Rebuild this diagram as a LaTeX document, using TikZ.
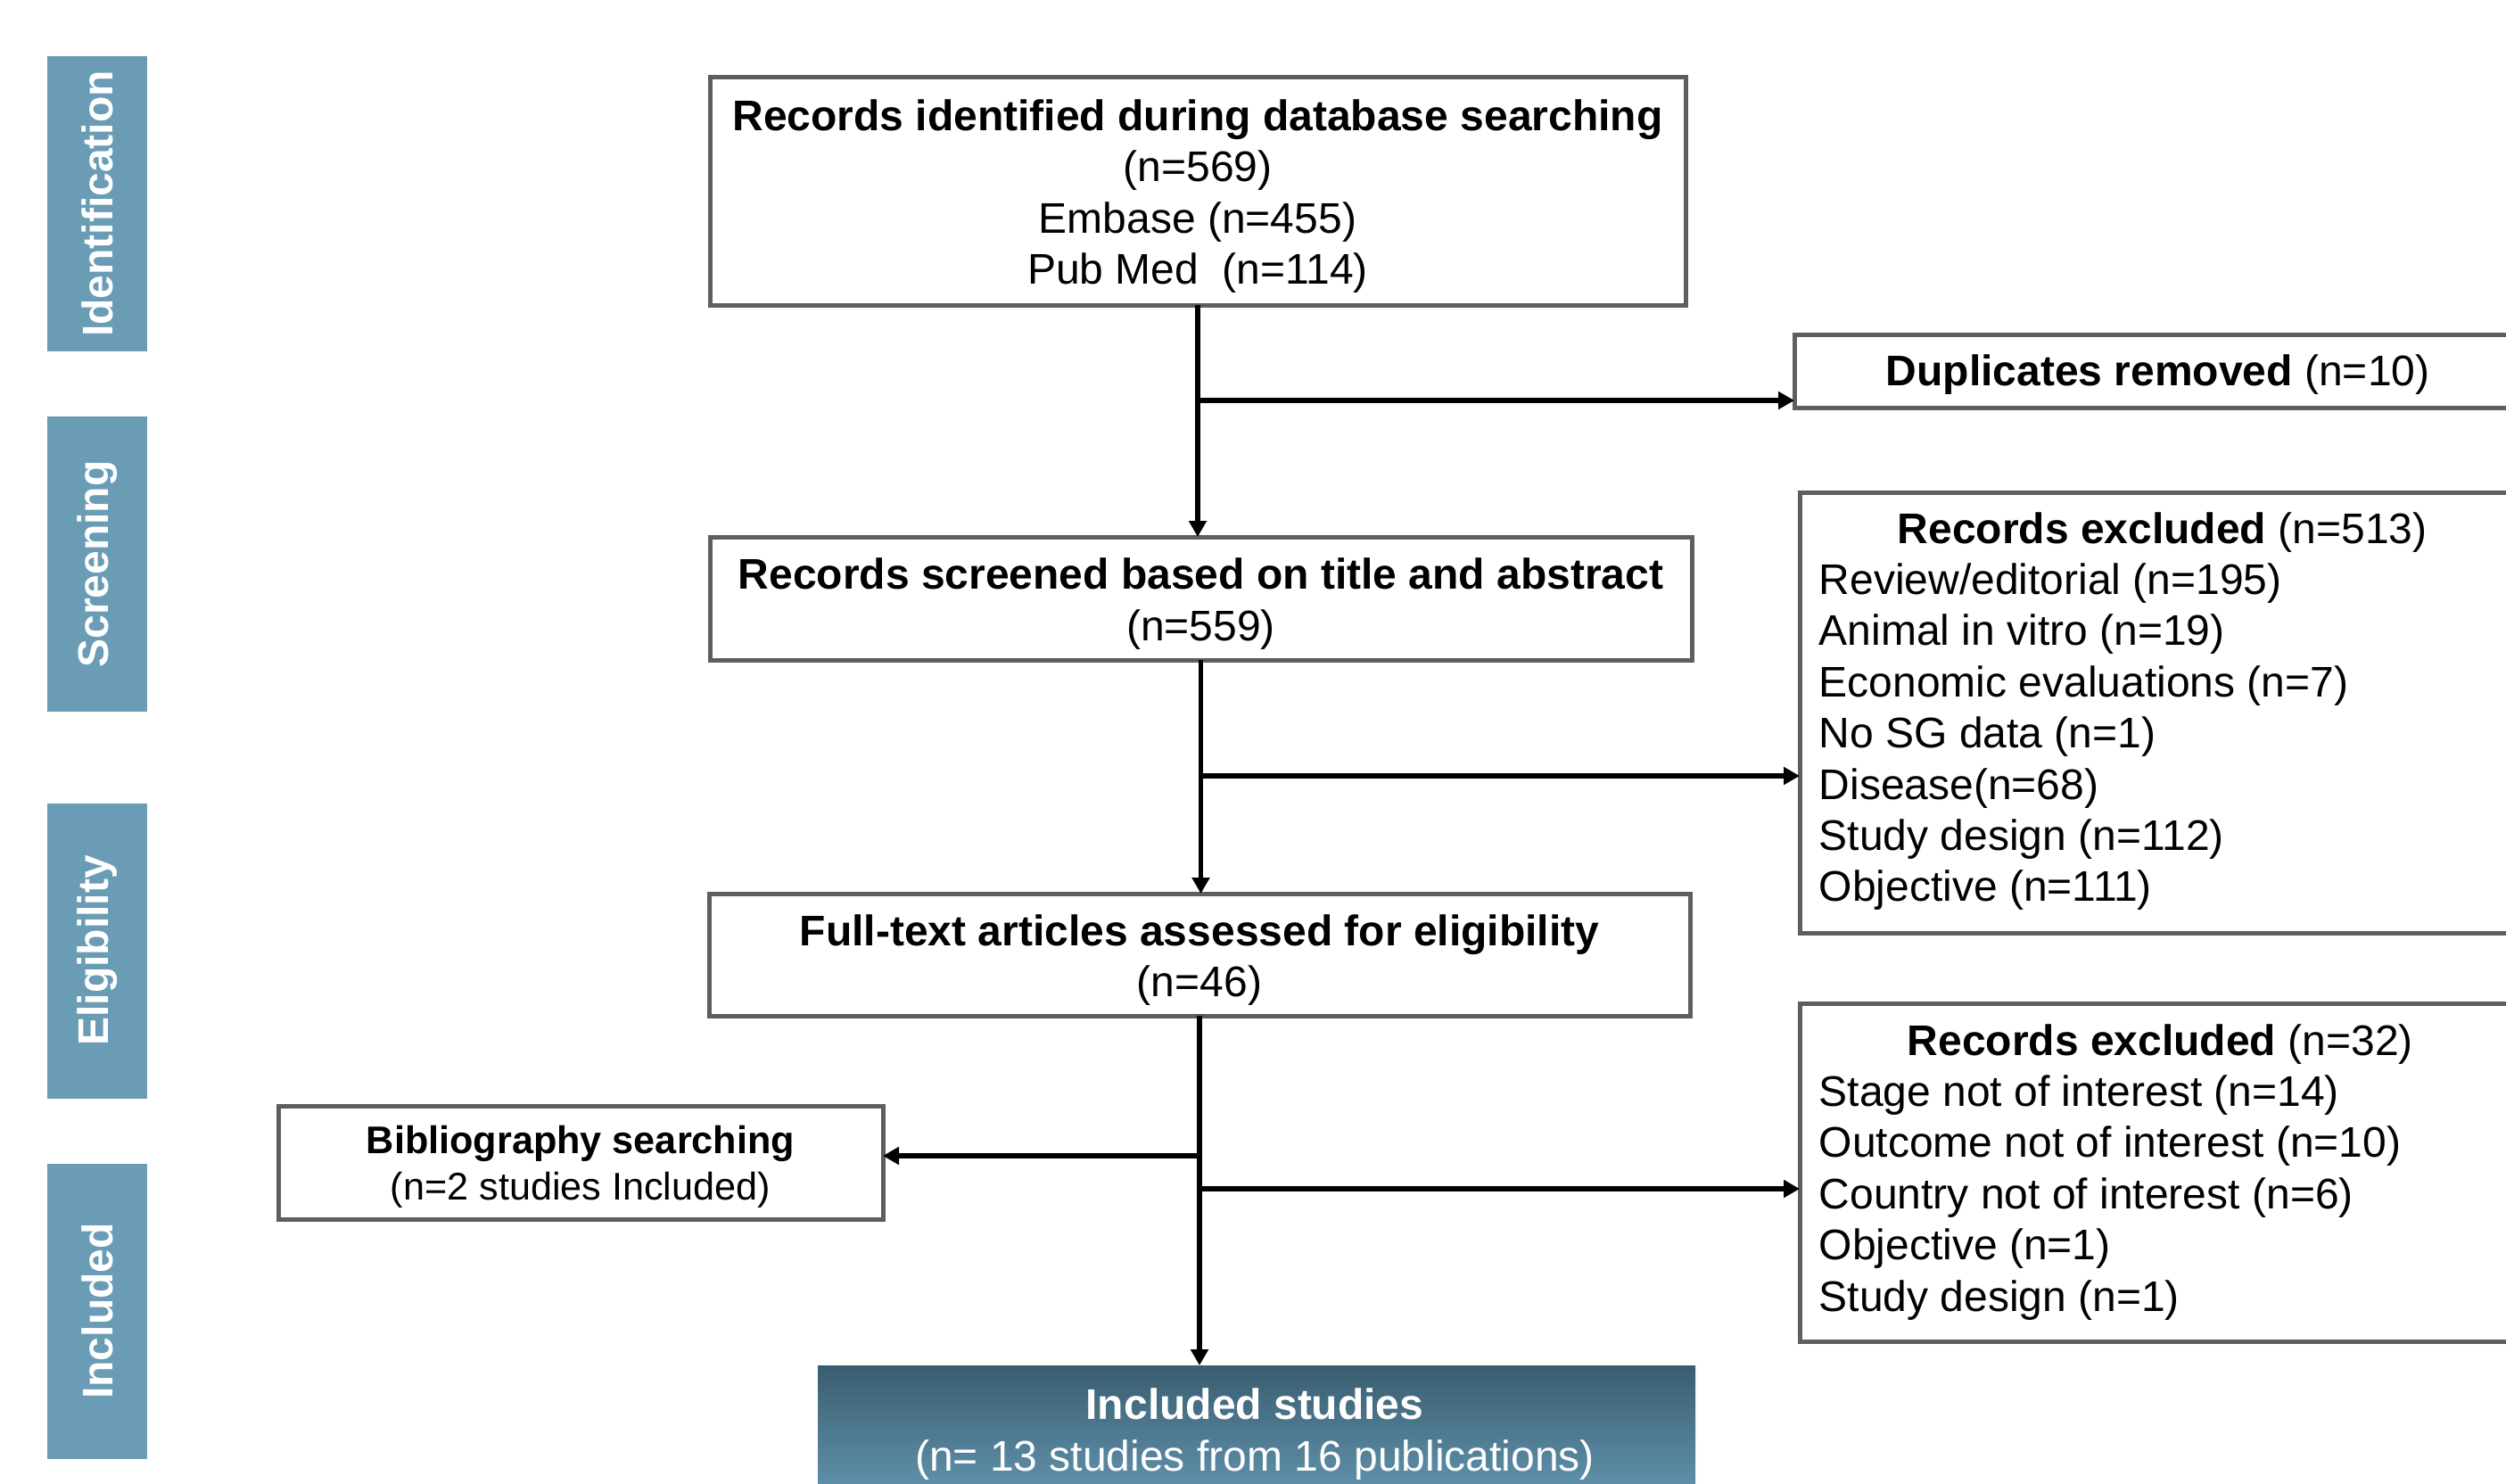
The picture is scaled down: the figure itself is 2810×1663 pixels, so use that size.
\documentclass[tikz,border=0pt]{standalone}
\usepackage{fontspec}
\setmainfont{Liberation Sans}
\usetikzlibrary{arrows.meta}
\definecolor{barblue}{HTML}{6A9DB5}
\definecolor{boxgray}{HTML}{5E5E5E}
\definecolor{inctop}{HTML}{3A5D70}
\definecolor{incbot}{HTML}{679DB8}
\begin{document}
\begin{tikzpicture}[x=0.25pt,y=-0.25pt,
  flowbox/.style={draw=boxgray, line width=1.25pt, fill=white, inner sep=0pt, outer sep=0pt},
  boxtext/.style={align=center, inner sep=0pt, font=\fontsize{12}{14.4}\selectfont},
  sidebar/.style={fill=barblue, inner sep=0pt, rotate=90, minimum width=82.75pt, minimum height=28pt, text=white, font=\fontsize{12}{14.4}\selectfont\bfseries},
  arr/.style={line width=1.3pt, -{Triangle[length=4.5pt,width=4.8pt]}},
  txt/.style={anchor=base west, inner sep=0pt, font=\fontsize{12}{14.4}\selectfont}]
\useasboundingbox (0,0) rectangle (2810,1663);
\clip (0,0) rectangle (2810,1663);

% phase bars
\node[sidebar] (sid1) at (109,228.5) {Identification};
\node[sidebar] (sid2) at (109,632.5) {Screening};
\node[sidebar] (sid3) at (109,1066) {Eligibility};
\node[sidebar] (sid4) at (109,1470) {Included};

% connector coordinates
\coordinate (j1) at (1343,449);
\coordinate (j2) at (1346.5,870);
\coordinate (j3) at (1345,1296);
\coordinate (j4) at (1345,1333);

% main boxes
\node[flowbox, minimum width=273.5pt, minimum height=64pt] (box1) at (1343,214) {};
\node[boxtext] (box1t) at ([yshift=-1.5pt]box1.center)
  {\textbf{Records identified during database searching}\\(n=569)\\Embase (n=455)\\Pub Med\ \ (n=114)};
\node[flowbox, minimum width=275.25pt, minimum height=34.5pt] (box2) at (1346.5,671) {};
\node[boxtext] (box2t) at ([yshift=-1.5pt]box2.center)
  {\textbf{Records screened based on title and abstract}\\(n=559)};
\node[flowbox, minimum width=275pt, minimum height=34.25pt] (box3) at (1345,1070.5) {};
\node[boxtext] (box3t) at ([yshift=-1.5pt]box3.center)
  {\textbf{Full-text articles assessed for eligibility}\\(n=46)};
\node[flowbox, minimum width=169.5pt, minimum height=31.75pt] (bib) at (651,1303.5) {};
\node[boxtext, font=\fontsize{10.8}{13}\selectfont] (bibt) at ([yshift=-1.3pt]bib.center)
  {\textbf{Bibliography searching}\\(n=2 studies Included)};

% side boxes (running past the right edge)
\node[flowbox, minimum width=222pt, minimum height=20.5pt] (dup) at (2456,416) {};
\node[flowbox, minimum width=220.5pt, minimum height=123.5pt] (exc1) at (2459,799) {};
\node[flowbox, minimum width=220.5pt, minimum height=94.75pt] (exc2) at (2459,1314.5) {};

\node[txt] (duptext) at (2114,432) {\textbf{Duplicates removed} (n=10)};

\node[txt] (e1h) at (2127,609) {\textbf{Records excluded} (n=513)};
\node[txt] (e1a) at (2039,666.4) {Review/editorial (n=195)};
\node[txt] (e1b) at (2039,723.8) {Animal in vitro (n=19)};
\node[txt] (e1c) at (2039,781.2) {Economic evaluations (n=7)};
\node[txt] (e1d) at (2039,838.6) {No SG data (n=1)};
\node[txt] (e1e) at (2039,896) {Disease(n=68)};
\node[txt] (e1f) at (2039,953.4) {Study design (n=112)};
\node[txt] (e1g) at (2039,1010.8) {Objective (n=111)};

\node[txt] (e2h) at (2138,1183) {\textbf{Records excluded} (n=32)};
\node[txt] (e2a) at (2039,1240.4) {Stage not of interest (n=14)};
\node[txt] (e2b) at (2039,1297.8) {Outcome not of interest (n=10)};
\node[txt] (e2c) at (2039,1355.2) {Country not of interest (n=6)};
\node[txt] (e2d) at (2039,1412.6) {Objective (n=1)};
\node[txt] (e2e) at (2039,1470) {Study design (n=1)};

% included box
\node[draw=none, top color=inctop, bottom color=incbot, inner sep=0pt, outer sep=0pt, minimum width=246pt, minimum height=42.25pt] (inc) at (1409,1615.5) {};
\node[boxtext, text=white] (inctext) at (1407,1608)
  {\textbf{Included studies}\\(n= 13 studies from 16 publications)};

% connectors
\draw[arr] (box1.south) -- (box1.south |- box2.north);
\draw[arr] (j1) -- (j1 -| dup.west);
\draw[arr] (box2.south) -- (box2.south |- box3.north);
\draw[arr] (j2) -- (j2 -| exc1.west);
\draw[arr] (box3.south) -- (box3.south |- inc.north);
\draw[arr] (j3) -- (j3 -| bib.east);
\draw[arr] (j4) -- (j4 -| exc2.west);
\end{tikzpicture}
\end{document}
